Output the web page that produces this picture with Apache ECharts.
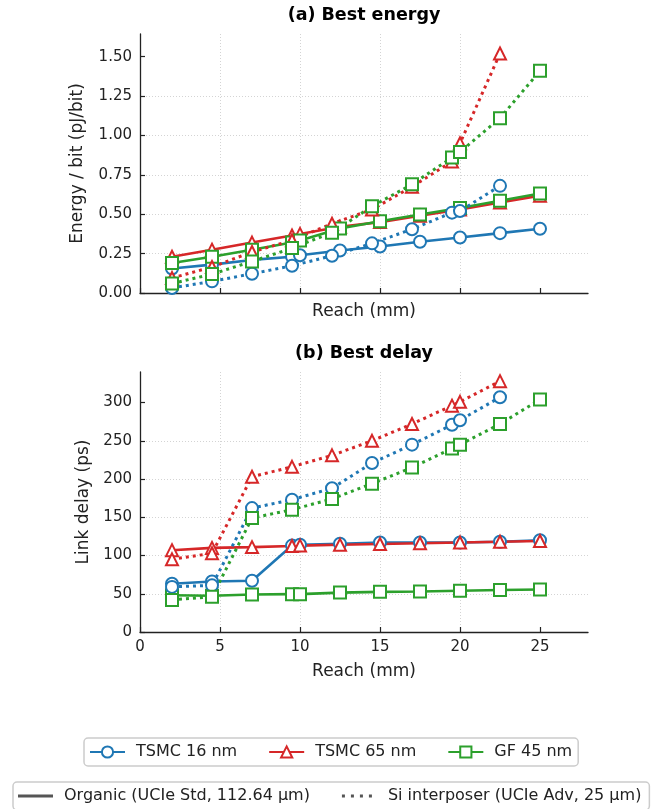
<!DOCTYPE html>
<html>
<head>
<meta charset="utf-8">
<script src="https://cdn.jsdelivr.net/npm/echarts@6/dist/echarts.min.js"></script>
<style>
  html, body { margin: 0; padding: 0; background: #fff; }
  #chart { width: 657px; height: 809px; }
</style>
</head>
<body>
<div id="chart"></div>
<script>
// reach values (mm)
const reachOrganic = [2, 4.5, 7, 9.5, 10, 12.5, 15, 17.5, 20, 22.5, 25]
const reachSi = [2, 4.5, 7, 9.5, 12, 14.5, 17, 19.5, 20, 22.5]
const reachSiGf = [2, 4.5, 7, 9.5, 12, 14.5, 17, 19.5, 20, 22.5, 25]

// (a) energy per bit, pJ/bit
const energyT16Org = [0.155, 0.18, 0.21, 0.23, 0.24, 0.27, 0.295, 0.325, 0.352, 0.38, 0.408]
const energyT65Org = [0.23, 0.275, 0.32, 0.365, 0.375, 0.42, 0.45, 0.49, 0.53, 0.575, 0.618]
const energyGf45Org = [0.19, 0.23, 0.275, 0.32, 0.333, 0.41, 0.455, 0.498, 0.54, 0.585, 0.632]
const energyT16Si = [0.032, 0.074, 0.122, 0.173, 0.236, 0.315, 0.405, 0.51, 0.52, 0.68]
const energyT65Si = [0.095, 0.165, 0.26, 0.335, 0.44, 0.53, 0.675, 0.835, 0.95, 1.52]
const energyGf45Si = [0.06, 0.12, 0.2, 0.285, 0.383, 0.55, 0.69, 0.86, 0.895, 1.11, 1.41]

// (b) link delay, ps
const delayT16Org = [63, 66, 67, 113, 114, 115.5, 117, 117, 117, 118, 120]
const delayT65Org = [107, 110, 111, 112.5, 113, 114, 115, 116, 117, 118, 119]
const delayGf45Org = [48, 47.5, 49, 49.5, 49.5, 51.5, 52.5, 53, 54, 55, 55.5]
const delayT16Si = [59, 61, 162, 173, 188, 221, 245, 271, 277, 307]
const delayT65Si = [95, 103, 203, 216, 231, 250, 272, 296, 301, 328]
const delayGf45Si = [42, 46, 149, 160, 174, 194, 215, 240, 245, 272, 304]

// ticks
const reachTicks = [0, 5, 10, 15, 20, 25]
const energyTicks = [0, 0.25, 0.5, 0.75, 1.0, 1.25, 1.5]
const delayTicks = [0, 50, 100, 150, 200, 250, 300]

const chipNames = ['TSMC 16 nm', 'TSMC 65 nm', 'GF 45 nm']
const techNames = ['Organic (UCIe Std, 112.64 µm)', 'Si interposer (UCIe Adv, 25 µm)']

const BLUE = '#1f77b4', RED = '#d62728', GREEN = '#2ca02c'
const FONT = 'DejaVu Sans'
const INK = '#222'
const GRID = '#d4d4d4'

const chart = echarts.init(document.getElementById('chart'))

function pts(xs, ys) {
  return xs.map((x, i) => [x, ys[i]])
}

function line(name, xs, ys, color, symbol, dotted, idx) {
  return {
    name: name,
    type: 'line',
    xAxisIndex: idx,
    yAxisIndex: idx,
    data: pts(xs, ys),
    symbol: symbol,
    symbolSize: 12,
    showSymbol: true,
    color: color,
    itemStyle: { color: color, borderWidth: 2 },
    lineStyle: dotted
      ? { color: color, width: 3, type: [3, 4] }
      : { color: color, width: 2.6 },
    emphasis: { disabled: true },
    animation: false
  }
}

function xAxis(idx, showLabels) {
  return {
    type: 'value',
    gridIndex: idx,
    min: 0,
    max: 28,
    interval: 5,
    name: 'Reach (mm)',
    nameLocation: 'middle',
    nameGap: showLabels ? 31 : 10,
    nameTextStyle: { fontFamily: FONT, fontSize: 17, color: INK },
    axisLine: { lineStyle: { color: INK, width: 1.3 } },
    axisTick: { inside: true, length: 5, lineStyle: { color: INK, width: 1.2 }, customValues: reachTicks },
    axisLabel: { show: showLabels, customValues: reachTicks, fontFamily: FONT, fontSize: 15, color: INK, margin: 8 },
    splitLine: { show: true, showMaxLine: false, lineStyle: { color: GRID, type: [1, 2], width: 1 } }
  }
}

function yAxis(idx, name, max, ticks, gap, fmt) {
  return {
    type: 'value',
    gridIndex: idx,
    min: 0,
    max: max,
    interval: ticks[1],
    name: name,
    nameLocation: 'middle',
    nameGap: gap,
    nameTextStyle: { fontFamily: FONT, fontSize: 17, color: INK },
    axisLine: { show: true, lineStyle: { color: INK, width: 1.3 } },
    axisTick: { show: true, inside: true, length: 5, lineStyle: { color: INK, width: 1.2 }, customValues: ticks },
    axisLabel: { customValues: ticks, fontFamily: FONT, fontSize: 15, color: INK, margin: 8, formatter: fmt },
    splitLine: { show: true, showMaxLine: false, lineStyle: { color: GRID, type: [1, 2], width: 1 } }
  }
}

const series = [
  line(chipNames[0], reachOrganic, energyT16Org, BLUE, 'emptyCircle', false, 0),
  line(chipNames[1], reachOrganic, energyT65Org, RED, 'emptyTriangle', false, 0),
  line(chipNames[2], reachOrganic, energyGf45Org, GREEN, 'emptyRect', false, 0),
  line(chipNames[0], reachSi, energyT16Si, BLUE, 'emptyCircle', true, 0),
  line(chipNames[1], reachSi, energyT65Si, RED, 'emptyTriangle', true, 0),
  line(chipNames[2], reachSiGf, energyGf45Si, GREEN, 'emptyRect', true, 0),
  line(chipNames[0], reachOrganic, delayT16Org, BLUE, 'emptyCircle', false, 1),
  line(chipNames[1], reachOrganic, delayT65Org, RED, 'emptyTriangle', false, 1),
  line(chipNames[2], reachOrganic, delayGf45Org, GREEN, 'emptyRect', false, 1),
  line(chipNames[0], reachSi, delayT16Si, BLUE, 'emptyCircle', true, 1),
  line(chipNames[1], reachSi, delayT65Si, RED, 'emptyTriangle', true, 1),
  line(chipNames[2], reachSiGf, delayGf45Si, GREEN, 'emptyRect', true, 1),
  // empty series, only here for the line-style legend
  { name: techNames[0], type: 'line', data: [], color: '#555', lineStyle: { color: '#555' } },
  { name: techNames[1], type: 'line', data: [], color: '#555', lineStyle: { color: '#555' } }
]

const dotsIcon = 'path://M0,0h3v3h-3zM9,0h3v3h-3zM18,0h3v3h-3zM27,0h3v3h-3zM35,3h0.01v-0.01h-0.01z'

chart.setOption({
  backgroundColor: '#fff',
  animation: false,
  title: [
    { text: '(a) Best energy', left: 364, top: 6, textAlign: 'center', padding: 0,
      textStyle: { fontFamily: FONT, fontSize: 17.5, fontWeight: 'bold', color: '#000' } },
    { text: '(b) Best delay', left: 364, top: 344, textAlign: 'center', padding: 0,
      textStyle: { fontFamily: FONT, fontSize: 17.5, fontWeight: 'bold', color: '#000' } }
  ],
  grid: [
    { left: 140, right: 69, top: 34, height: 259 },
    { left: 140, right: 69, top: 372, height: 260 }
  ],
  xAxis: [xAxis(0, false), xAxis(1, true)],
  yAxis: [
    yAxis(0, 'Energy / bit (pJ/bit)', 1.644, energyTicks, 54, v => v.toFixed(2)),
    yAxis(1, 'Link delay (ps)', 340, delayTicks, 48, v => String(v))
  ],
  legend: [
    {
      data: chipNames,
      left: 84,
      top: 738,
      orient: 'horizontal',
      itemWidth: 35,
      itemHeight: 14,
      itemGap: 31,
      padding: [6, 6, 6, 5],
      borderColor: '#ccc',
      borderWidth: 1.5,
      borderRadius: 4,
      selectedMode: false,
      textStyle: { fontFamily: FONT, fontSize: 16, color: INK, padding: [0, 0, 0, 6] }
    },
    {
      data: [
        { name: techNames[0], icon: 'rect', itemStyle: { color: '#555' } },
        { name: techNames[1], icon: dotsIcon, itemStyle: { color: '#555' } }
      ],
      left: 13,
      top: 782,
      orient: 'horizontal',
      itemWidth: 35,
      itemHeight: 3,
      itemGap: 32,
      padding: [6, 8, 6, 5],
      borderColor: '#ccc',
      borderWidth: 1.5,
      borderRadius: 4,
      selectedMode: false,
      textStyle: { fontFamily: FONT, fontSize: 16, color: INK, padding: [0, 0, 0, 6] }
    }
  ],
  series: series
})
</script>
</body>
</html>
